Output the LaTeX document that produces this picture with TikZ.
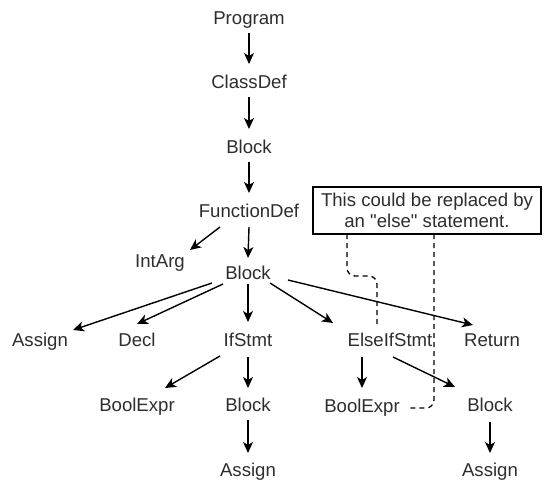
\documentclass[tikz,border=0pt]{standalone}
\usepackage{fontspec}
\setmainfont{Liberation Sans}[Ligatures=TeXOff]
\usetikzlibrary{arrows.meta}
\definecolor{labelgray}{RGB}{45,45,45}
\begin{document}
\begin{tikzpicture}[x=1pt,y=-1pt,
  lbl/.style={inner sep=0pt, text height=13.3pt, text depth=0pt, anchor=center,
    text=labelgray, font=\fontsize{18.6}{21}\selectfont},
  arr/.style={line width=1.4pt, -{Stealth[length=11pt,width=10pt,inset=3pt]}},
  notebox/.style={draw, line width=1.3pt, minimum width=228pt, minimum height=47pt,
    inner sep=0pt, align=center, text=labelgray, font=\fontsize{18.6}{21}\selectfont},
  notelink/.style={line width=1.3pt, dash pattern=on 5pt off 4pt, rounded corners=8pt}]
\useasboundingbox (0,0) rectangle (547,483);

% tree labels
\node[lbl] (prog)   at (249,18)  {Program};
\node[lbl] (cls)    at (249,82)  {ClassDef};
\node[lbl] (blkA)   at (249,147) {Block};
\node[lbl] (fdef)   at (249,211) {FunctionDef};
\node[lbl] (intarg) at (160,261) {IntArg};
\node[lbl] (blkB)   at (248,273) {Block};
\node[lbl] (asgA)   at (40,340)  {Assign};
\node[lbl] (decl)   at (137,340) {Decl};
\node[lbl] (ifs)    at (248,340) {IfStmt};
\node[lbl] (elif)   at (390,340) {ElseIfStmt};
\node[lbl] (ret)    at (492,340) {Return};
\node[lbl] (bexpA)  at (137,405) {BoolExpr};
\node[lbl] (blkC)   at (248,405) {Block};
\node[lbl] (bexpB)  at (362,406) {BoolExpr};
\node[lbl] (blkD)   at (490,405) {Block};
\node[lbl] (asgB)   at (248,470) {Assign};
\node[lbl] (asgC)   at (490,470) {Assign};

% comment box
\node[notebox] (note) at (427,210.5) {This could be replaced by\\an "else" statement.};
\coordinate (noteL) at (347,234);
\coordinate (noteR) at (434,234);

% spine
\draw[arr] ([shift={(0,15)}]prog.center) -- ([shift={(0,-18)}]cls.center);
\draw[arr] ([shift={(0,15)}]cls.center)  -- ([shift={(0,-18)}]blkA.center);
\draw[arr] ([shift={(0,15)}]blkA.center) -- ([shift={(0,-18)}]fdef.center);
\draw[arr] ([shift={(0,16)}]fdef.center) -- ([shift={(0,-15)}]blkB.center);
\draw[arr] ([shift={(-29,16)}]fdef.center) -- ([shift={(30,-11)}]intarg.center);

% children of the function body
\draw[arr] ([shift={(-36,10)}]blkB.center) -- ([shift={(33,-10)}]asgA.center);
\draw[arr] ([shift={(-25,11)}]blkB.center) -- ([shift={(0,-16)}]decl.center);
\draw[arr] ([shift={(0,11)}]blkB.center)   -- ([shift={(0,-18)}]ifs.center);
\draw[arr] ([shift={(22,10)}]blkB.center)  -- ([shift={(-57,-17)}]elif.center);
\draw[arr] ([shift={(40,7)}]blkB.center)   -- ([shift={(-19,-15)}]ret.center);

% if branch
\draw[arr] ([shift={(-28,16)}]ifs.center) -- ([shift={(28,-17)}]bexpA.center);
\draw[arr] ([shift={(0,17)}]ifs.center)   -- ([shift={(0,-17)}]blkC.center);
\draw[arr] ([shift={(0,15)}]blkC.center)  -- ([shift={(0,-17)}]asgB.center);

% else-if branch
\draw[arr] ([shift={(-28,17)}]elif.center) -- ([shift={(0,-18)}]bexpB.center);
\draw[arr] ([shift={(3,17)}]elif.center)   -- ([shift={(-35,-18)}]blkD.center);
\draw[arr] ([shift={(0,17)}]blkD.center)   -- ([shift={(0,-17)}]asgC.center);

% dashed links from the comment
\draw[notelink] (noteL) -- (347,276) -- (377,276) -- ([shift={(-13,-15)}]elif.center);
\draw[notelink] (noteR) -- (434,408) -- ([shift={(48,2)}]bexpB.center);
\end{tikzpicture}
\end{document}
